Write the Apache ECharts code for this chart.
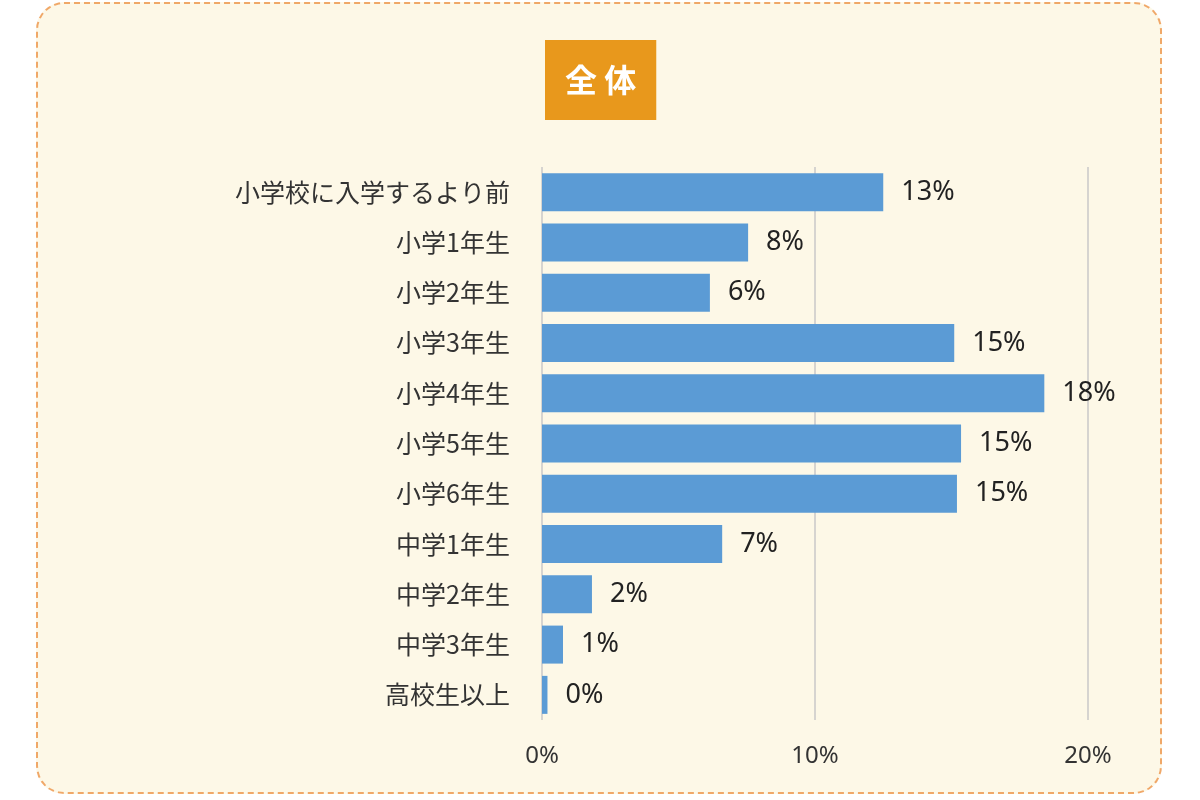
<!DOCTYPE html>
<html>
<head>
<meta charset="utf-8">
<script src="https://cdn.jsdelivr.net/npm/echarts@6/dist/echarts.min.js"></script>
<style>
html,body{margin:0;padding:0;background:#fff;}
#wrap{position:absolute;left:36px;top:2px;width:1126px;height:792px;background:#fdf8e7;border:2px dashed #f0a868;border-radius:28px;box-sizing:border-box;}
#main{position:absolute;left:0;top:0;width:1200px;height:800px;}
</style>
</head>
<body>
<div id="wrap"></div>
<div id="main"></div>
<script>
var categories = ['小学校に入学するより前', '小学1年生', '小学2年生', '小学3年生', '小学4年生', '小学5年生', '小学6年生', '中学1年生', '中学2年生', '中学3年生', '高校生以上'];
var values = [12.5, 7.55, 6.15, 15.1, 18.4, 15.35, 15.2, 6.6, 1.83, 0.77, 0.2];
var xTicks = [0, 10, 20];

var myChart = echarts.init(document.getElementById('main'));
myChart.setOption({
    title: {
        text: '全 体',
        left: 545,
        top: 40,
        padding: [20, 20, 20, 20],
        backgroundColor: '#e8981c',
        textStyle: { color: '#fff', fontSize: 32, fontWeight: 'bold', fontFamily: 'Noto Sans CJK JP', lineHeight: 40 }
    },
    grid: { left: 542, right: 112, top: 167, bottom: 80 },
    xAxis: {
        type: 'value',
        min: 0,
        max: 20,
        interval: 10,
        axisLine: { show: false },
        axisTick: { show: false },
        splitLine: { lineStyle: { color: '#c8c8c8', width: 1.5 } },
        axisLabel: {
            margin: 24,
            color: '#333',
            fontSize: 24,
            fontFamily: 'Noto Sans',
            formatter: function (v) { return xTicks.indexOf(v) >= 0 ? v + '%' : ''; }
        }
    },
    yAxis: {
        type: 'category',
        inverse: true,
        data: categories,
        axisLine: { show: false },
        axisTick: { show: false },
        axisLabel: { margin: 32, color: '#333', fontSize: 25, fontFamily: 'Noto Sans CJK JP' }
    },
    series: [{
        type: 'bar',
        data: values,
        barWidth: 38,
        itemStyle: { color: '#5b9bd5' },
        label: {
            show: true,
            position: 'right',
            distance: 18,
            color: '#222',
            fontSize: 27,
            fontFamily: 'Noto Sans',
            formatter: function (p) { return Math.round(p.value) + '%'; }
        }
    }]
});
</script>
</body>
</html>
